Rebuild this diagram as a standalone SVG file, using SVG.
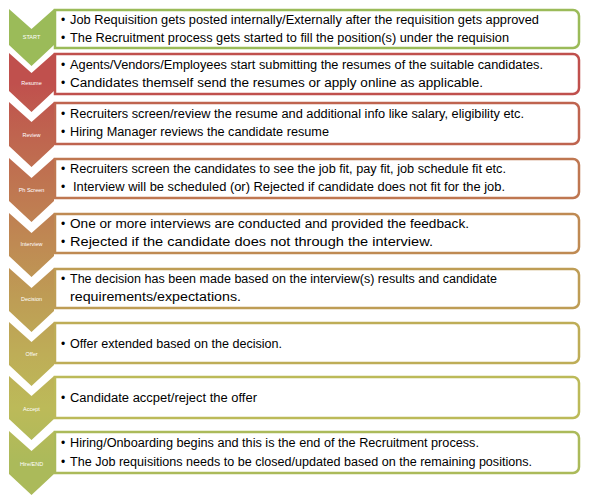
<svg xmlns="http://www.w3.org/2000/svg" width="590" height="498" viewBox="0 0 590 498">
<style>
.box{fill:#fff;stroke-width:2.5}
.t{font-family:"Liberation Sans",Arial,sans-serif;font-size:12px;fill:#000}
.lbl{font-family:"Liberation Sans",Arial,sans-serif;font-size:5.5px;fill:#fff;text-anchor:middle}
</style>
<defs>
<linearGradient id="col" gradientUnits="userSpaceOnUse" x1="0" y1="53" x2="0" y2="495">
<stop offset="0.067" stop-color="#C0504D"/>
<stop offset="0.185" stop-color="#BF644F"/>
<stop offset="0.31" stop-color="#BF7751"/>
<stop offset="0.434" stop-color="#BF8A53"/>
<stop offset="0.559" stop-color="#BE9D55"/>
<stop offset="0.681" stop-color="#BEAD57"/>
<stop offset="0.803" stop-color="#BCBA59"/>
<stop offset="0.928" stop-color="#ABBA5A"/>
</linearGradient>
</defs>
<rect width="590" height="498" fill="#fff"/>
<g id="connectors"/>

<g id="n1">
<path class="box" stroke="#9BBB59" d="M55,10 H573 A6,6 0 0 1 579,16 V42 A6,6 0 0 1 573,48 H55 Z"/>
<path fill="#9BBB59" d="M9,9 L31.5,29 L54,9 L54,45 L31.5,66 L9,45 Z"/>
<text class="lbl" x="31.5" y="39">START</text>
<text class="t" x="61" y="24">•</text><text class="t" x="70" y="24" textLength="469" lengthAdjust="spacingAndGlyphs">Job Requisition gets posted internally/Externally after the requisition gets approved</text>
<text class="t" x="61" y="42">•</text><text class="t" x="70" y="42" textLength="439" lengthAdjust="spacingAndGlyphs">The Recruitment process gets started to fill the position(s) under the requision</text>
</g>

<g id="n2">
<path class="box" stroke="#C0504D" d="M55,54 H573 A6,6 0 0 1 579,60 V88 A6,6 0 0 1 573,94 H55 Z"/>
<path fill="url(#col)" d="M9,53 L31.5,73 L54,53 L54,91 L31.5,112 L9,91 Z"/>
<text class="lbl" x="31.5" y="85">Resume</text>
<text class="t" x="61" y="68.5">•</text><text class="t" x="70" y="68.5" textLength="473" lengthAdjust="spacingAndGlyphs">Agents/Vendors/Employees  start submitting the resumes of the suitable candidates.</text>
<text class="t" x="61" y="86.5">•</text><text class="t" x="70" y="86.5" textLength="413" lengthAdjust="spacingAndGlyphs">Candidates themself send the resumes or apply online as applicable.</text>
</g>

<g id="n3">
<path class="box" stroke="#BF644F" d="M55,103 H573 A6,6 0 0 1 579,109 V138 A6,6 0 0 1 573,144 H55 Z"/>
<path fill="url(#col)" d="M9,102 L31.5,122 L54,102 L54,146 L31.5,167 L9,146 Z"/>
<text class="lbl" x="31.5" y="137">Review</text>
<text class="t" x="61" y="117.5">•</text><text class="t" x="70" y="117.5" textLength="454" lengthAdjust="spacingAndGlyphs">Recruiters screen/review the resume and additional info like salary, eligibility etc.</text>
<text class="t" x="61" y="135.5">•</text><text class="t" x="70" y="135.5" textLength="259" lengthAdjust="spacingAndGlyphs">Hiring Manager reviews the candidate resume</text>
</g>

<g id="n4">
<path class="box" stroke="#BF7751" d="M55,159 H573 A6,6 0 0 1 579,165 V192 A6,6 0 0 1 573,198 H55 Z"/>
<path fill="url(#col)" d="M9,158 L31.5,178 L54,158 L54,201 L31.5,222 L9,201 Z"/>
<text class="lbl" x="31.5" y="192">Ph Screen</text>
<text class="t" x="61" y="173">•</text><text class="t" x="70" y="173" textLength="436" lengthAdjust="spacingAndGlyphs">Recruiters screen the candidates to see the job fit, pay fit, job schedule fit etc.</text>
<text class="t" x="61" y="191">•</text><text class="t" x="73" y="191" textLength="432" lengthAdjust="spacingAndGlyphs">Interview will be scheduled (or) Rejected if candidate does not fit for the job.</text>
</g>

<g id="n5">
<path class="box" stroke="#BF8A53" d="M55,214 H573 A6,6 0 0 1 579,220 V247 A6,6 0 0 1 573,253 H55 Z"/>
<path fill="url(#col)" d="M9,213 L31.5,233 L54,213 L54,256 L31.5,277 L9,256 Z"/>
<text class="lbl" x="31.5" y="246">Interview</text>
<text class="t" x="61" y="227.5">•</text><text class="t" x="70" y="227.5" textLength="399" lengthAdjust="spacingAndGlyphs">One or more interviews are conducted and provided the feedback.</text>
<text class="t" x="61" y="246">•</text><text class="t" x="70" y="246" textLength="363" lengthAdjust="spacingAndGlyphs">Rejected if the candidate does not through the interview.</text>
</g>

<g id="n6">
<path class="box" stroke="#BE9D55" d="M55,269 H573 A6,6 0 0 1 579,275 V302 A6,6 0 0 1 573,308 H55 Z"/>
<path fill="url(#col)" d="M9,268 L31.5,288 L54,268 L54,311 L31.5,332 L9,311 Z"/>
<text class="lbl" x="31.5" y="301">Decision</text>
<text class="t" x="61" y="283">•</text><text class="t" x="70" y="283" textLength="427" lengthAdjust="spacingAndGlyphs">The decision has been made based on the interview(s) results and candidate</text>
<text class="t" x="70" y="301" textLength="171" lengthAdjust="spacingAndGlyphs">requirements/expectations.</text>
</g>

<g id="n7">
<path class="box" stroke="#BEAD57" d="M55,323 H573 A6,6 0 0 1 579,329 V357 A6,6 0 0 1 573,363 H55 Z"/>
<path fill="url(#col)" d="M9,322 L31.5,342 L54,322 L54,365 L31.5,386 L9,365 Z"/>
<text class="lbl" x="31.5" y="356">Offer</text>
<text class="t" x="61" y="347.5">•</text><text class="t" x="70" y="347.5" textLength="212" lengthAdjust="spacingAndGlyphs">Offer extended based on the decision.</text>
</g>

<g id="n8">
<path class="box" stroke="#BCBA59" d="M55,377 H573 A6,6 0 0 1 579,383 V412 A6,6 0 0 1 573,418 H55 Z"/>
<path fill="url(#col)" d="M9,376 L31.5,396 L54,376 L54,419 L31.5,440 L9,419 Z"/>
<text class="lbl" x="31.5" y="411">Accept</text>
<text class="t" x="61" y="401.5">•</text><text class="t" x="70" y="401.5" textLength="187" lengthAdjust="spacingAndGlyphs">Candidate accpet/reject the offer</text>
</g>

<g id="n9">
<path class="box" stroke="#ABBA5A" d="M55,432 H573 A6,6 0 0 1 579,438 V467 A6,6 0 0 1 573,473 H55 Z"/>
<path fill="url(#col)" d="M9,431 L31.5,451 L54,431 L54,474 L31.5,495 L9,474 Z"/>
<text class="lbl" x="31.5" y="466">Hire/END</text>
<text class="t" x="61" y="447">•</text><text class="t" x="70" y="447" textLength="409" lengthAdjust="spacingAndGlyphs">Hiring/Onboarding begins and this is the end of the Recruitment process.</text>
<text class="t" x="61" y="466">•</text><text class="t" x="70" y="466" textLength="462" lengthAdjust="spacingAndGlyphs">The Job requisitions needs to be closed/updated based on the remaining positions.</text>
</g>
</svg>
